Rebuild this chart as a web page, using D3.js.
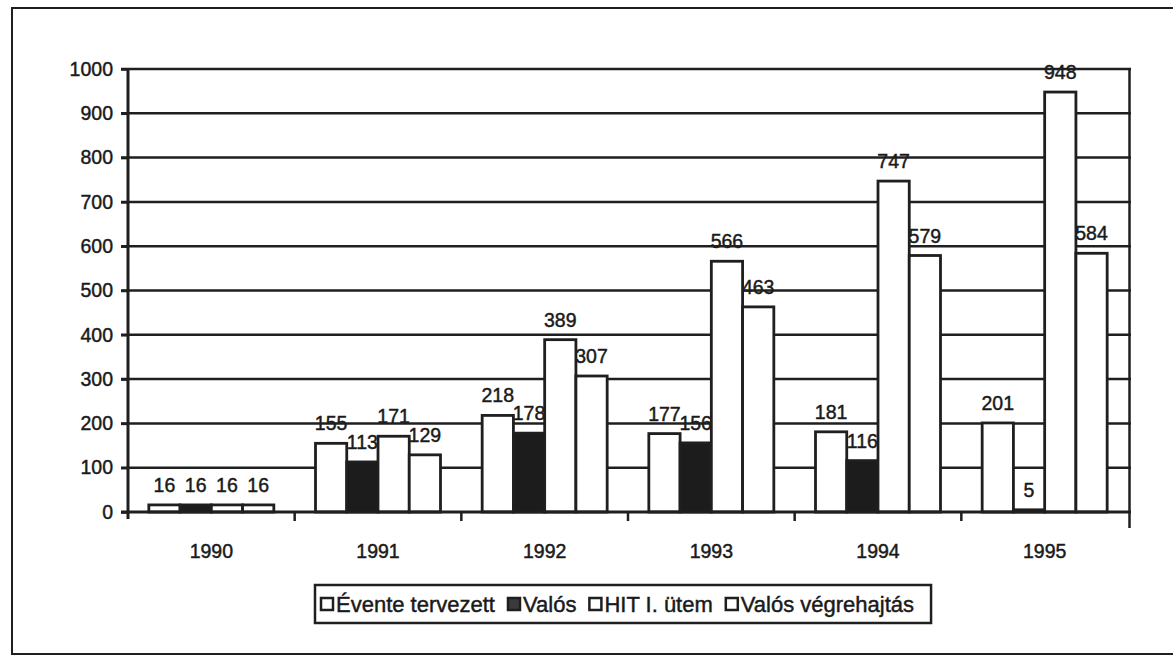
<!DOCTYPE html>
<html>
<head>
<meta charset="utf-8">
<script src="https://cdn.jsdelivr.net/npm/d3@7/dist/d3.min.js"></script>
<style>
  html, body { margin: 0; padding: 0; background: #fff; }
  svg { display: block; }
  text { font-family: "Liberation Sans", Arial, Helvetica, sans-serif; fill: #1a1a1a; stroke: #1a1a1a; stroke-width: 0.45px; }
</style>
</head>
<body>
<svg id="chart" width="1173" height="658"></svg>
<script>
const categories = ["1990", "1991", "1992", "1993", "1994", "1995"];
const seriesNames = ["Évente tervezett", "Valós", "HIT I. ütem", "Valós végrehajtás"];
const eventeTervezett = [16, 155, 218, 177, 181, 201];
const valos = [16, 113, 178, 156, 116, 5];
const hitUtem = [16, 171, 389, 566, 747, 948];
const valosVegrehajtas = [16, 129, 307, 463, 579, 584];
const yTicks = [0, 100, 200, 300, 400, 500, 600, 700, 800, 900, 1000];

const seriesValues = [eventeTervezett, valos, hitUtem, valosVegrehajtas];
const seriesFill = ["#ffffff", "#1c1c1c", "#ffffff", "#ffffff"];
const legendFill = ["#ffffff", "#3a3a3a", "#ffffff", "#ffffff"];
const ink = "#1f1f1f";

const svg = d3.select("#chart");

// outer frame (left, top, bottom)
svg.append("path")
  .attr("d", "M1173,8 L12,8 L12,654 L1173,654")
  .attr("fill", "none").attr("stroke", ink).attr("stroke-width", 2);

const pL = 128, pR = 1128, pT = 69, pB = 512;

const x0 = d3.scaleBand().domain(categories).range([pL, pR])
  .paddingInner(0.25).paddingOuter(0.125);
const x1 = d3.scaleBand().domain(d3.range(seriesNames.length)).range([0, x0.bandwidth()]);
const y = d3.scaleLinear().domain([0, 1000]).range([pB, pT]);

const data = [];
categories.forEach((c, i) => {
  seriesValues.forEach((vals, s) => data.push({ cat: c, s, v: vals[i] }));
});

// data labels (drawn beneath gridlines and bars, as in the source)
svg.append("g").selectAll("text").data(data).join("text")
  .attr("x", d => x0(d.cat) + x1(d.s) + x1.bandwidth() / 2)
  .attr("y", d => y(d.v) - 13)
  .attr("text-anchor", "middle")
  .attr("font-size", 19.5)
  .text(d => d.v);

// gridlines
svg.append("g").selectAll("line").data(yTicks.filter(t => t > 0)).join("line")
  .attr("x1", pL - 7).attr("x2", pR + 3)
  .attr("y1", d => y(d)).attr("y2", d => y(d))
  .attr("stroke", ink).attr("stroke-width", 2.5);

// right plot border
svg.append("line")
  .attr("x1", pR + 1.5).attr("x2", pR + 1.5)
  .attr("y1", pT - 1).attr("y2", pB + 16)
  .attr("stroke", ink).attr("stroke-width", 2.5);

// bars
svg.append("g").selectAll("rect").data(data).join("rect")
  .attr("x", d => x0(d.cat) + x1(d.s))
  .attr("y", d => y(d.v))
  .attr("width", x1.bandwidth())
  .attr("height", d => y(0) - y(d.v))
  .attr("fill", d => seriesFill[d.s])
  .attr("stroke", ink).attr("stroke-width", 2.8);

// y axis
const yAxis = d3.axisLeft(y).tickValues(yTicks).tickFormat(d3.format("d")).tickSize(7).tickPadding(8);
const gy = svg.append("g").attr("transform", `translate(${pL},0)`).call(yAxis);
gy.select(".domain").remove();
gy.selectAll(".tick line").attr("stroke", ink).attr("stroke-width", 2.5);
gy.selectAll(".tick text").attr("font-size", 19.5).attr("fill", ink)
  .attr("font-family", '"Liberation Sans", Arial, sans-serif');
svg.append("line")
  .attr("x1", pL).attr("x2", pL).attr("y1", pT - 1).attr("y2", pB + 7)
  .attr("stroke", ink).attr("stroke-width", 3);

// x axis
svg.append("line")
  .attr("x1", pL - 7).attr("x2", pR + 3).attr("y1", pB).attr("y2", pB)
  .attr("stroke", ink).attr("stroke-width", 3);
const boundaries = categories.map(c => x0(c) - x0.step() * x0.paddingOuter()).slice(1);
svg.append("g").selectAll("line").data(boundaries).join("line")
  .attr("x1", d => d).attr("x2", d => d).attr("y1", pB).attr("y2", pB + 9)
  .attr("stroke", ink).attr("stroke-width", 2.5);
svg.append("g").selectAll("text").data(categories).join("text")
  .attr("x", d => x0(d) + x0.bandwidth() / 2)
  .attr("y", 558)
  .attr("text-anchor", "middle")
  .attr("font-size", 19.5)
  .text(d => d);

// legend
const lg = svg.append("g");
const lgX = 315, lgY = 585, lgH = 38;
const items = lg.append("g");
let cx = lgX + 6;
seriesNames.forEach((name, i) => {
  items.append("rect")
    .attr("x", cx).attr("y", lgY + lgH / 2 - 6).attr("width", 12).attr("height", 12)
    .attr("fill", legendFill[i]).attr("stroke", ink).attr("stroke-width", 2.5);
  const t = items.append("text")
    .attr("x", cx + 15).attr("y", lgY + lgH / 2 + 8)
    .attr("font-size", 22)
    .text(name);
  cx += 15 + t.node().getComputedTextLength() + 13;
});
lg.insert("rect", ":first-child")
  .attr("x", lgX).attr("y", lgY).attr("width", cx - lgX + 4).attr("height", lgH)
  .attr("fill", "#fff").attr("stroke", ink).attr("stroke-width", 2.5);
</script>
</body>
</html>
